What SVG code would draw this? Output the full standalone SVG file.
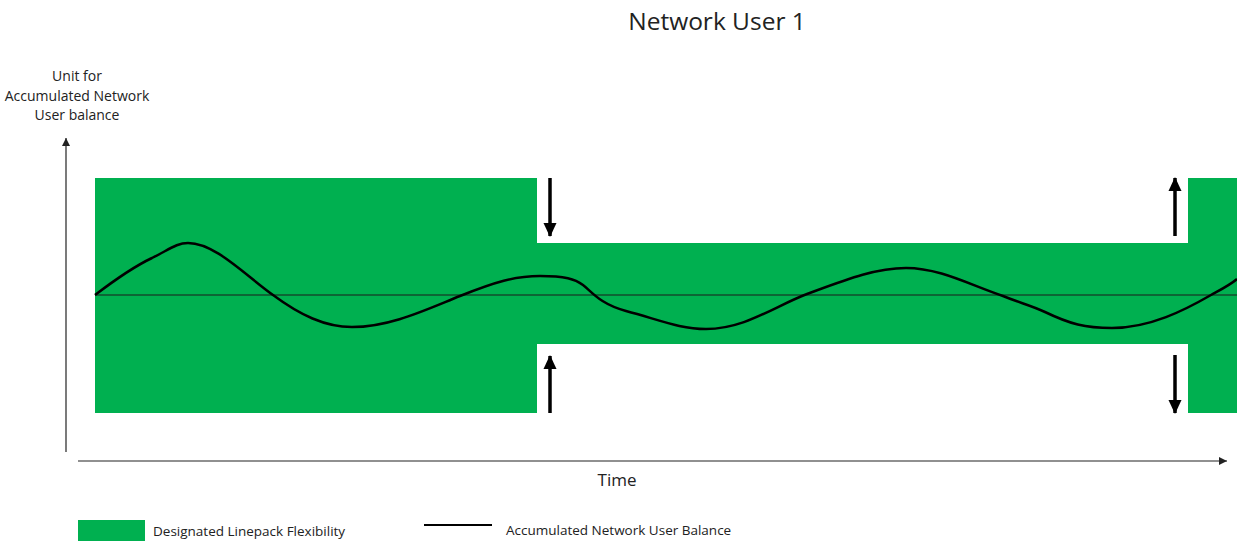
<svg xmlns="http://www.w3.org/2000/svg" width="1237" height="543" viewBox="0 0 1237 543">
<style>
.t{font-family:"Open Sans","Liberation Sans",sans-serif;fill:#222}
.band{fill:#00B050}
.arr{stroke:#000;stroke-width:3.5;fill:none}
.axis{stroke:#222;stroke-width:1.2;fill:none}
</style>
<defs>
<marker id="ah" markerUnits="userSpaceOnUse" markerWidth="14" markerHeight="15" refX="14" refY="7" orient="auto" viewBox="0 0 15 14"><path d="M0,0 L15,7 L0,14 Z" fill="#000"/></marker>
<marker id="axh" markerUnits="userSpaceOnUse" markerWidth="8" markerHeight="8" refX="8" refY="4" orient="auto" viewBox="0 0 8 8"><path d="M0,0 L8,4 L0,8 Z" fill="#222"/></marker>
</defs>
<rect width="1237" height="543" fill="#fff"/>
<g id="title"><text class="t" x="717" y="30" font-size="24.5" text-anchor="middle">Network User 1</text></g>
<g id="flexibility">
<path class="band" d="M95,178 H537 V243 H1188 V178 H1237 V413 H1188 V344 H537 V413 H95 Z"/>
</g>
<g id="axes">
<line class="axis" x1="66" y1="452" x2="66" y2="138" marker-end="url(#axh)"/>
<line class="axis" x1="78" y1="461" x2="1227" y2="461" marker-end="url(#axh)"/>
<text class="t" x="77" y="81" font-size="14" text-anchor="middle">Unit for</text>
<text class="t" x="77" y="101" font-size="14" text-anchor="middle">Accumulated Network</text>
<text class="t" x="77" y="120" font-size="14" text-anchor="middle">User balance</text>
<text class="t" x="617" y="486" font-size="17" text-anchor="middle">Time</text>
</g>
<g id="zero-line"><line x1="95" y1="295" x2="1237" y2="295" stroke="#1a1a1a" stroke-width="1"/></g>
<g id="balance">
<path d="M95,295 C120,276 135,266 152,258 C170,249 177,243 188,243 C215,243 245,275 273,295 C300,315 325,327 352,327 C390,327 425,310 460,296 C495,282 515,276 540,276 C565,276 575,279 583,285 C592,292 600,304 626,311 C660,320 680,329 706,329 C745,329 775,306 807,294 C845,280 875,268 906,268 C940,268 970,285 1003,296 C1020,303 1030,305 1045,312 C1070,324 1085,328 1112,328 C1150,328 1185,310 1211,295 C1220,290 1230,285 1237,279" fill="none" stroke="#000" stroke-width="2.5"/>
</g>
<g id="connectors">
<line class="arr" x1="550" y1="178" x2="550" y2="236" marker-end="url(#ah)"/>
<line class="arr" x1="550" y1="413" x2="550" y2="356" marker-end="url(#ah)"/>
<line class="arr" x1="1175" y1="236" x2="1175" y2="178" marker-end="url(#ah)"/>
<line class="arr" x1="1175" y1="355" x2="1175" y2="413" marker-end="url(#ah)"/>
</g>
<g id="legend">
<rect class="band" x="78" y="520" width="67" height="21"/>
<text class="t" x="153" y="536" font-size="13.5">Designated Linepack Flexibility</text>
<line x1="424" y1="525" x2="492" y2="525" stroke="#000" stroke-width="2"/>
<text class="t" x="506" y="535" font-size="13.5">Accumulated Network User Balance</text>
</g>
</svg>
